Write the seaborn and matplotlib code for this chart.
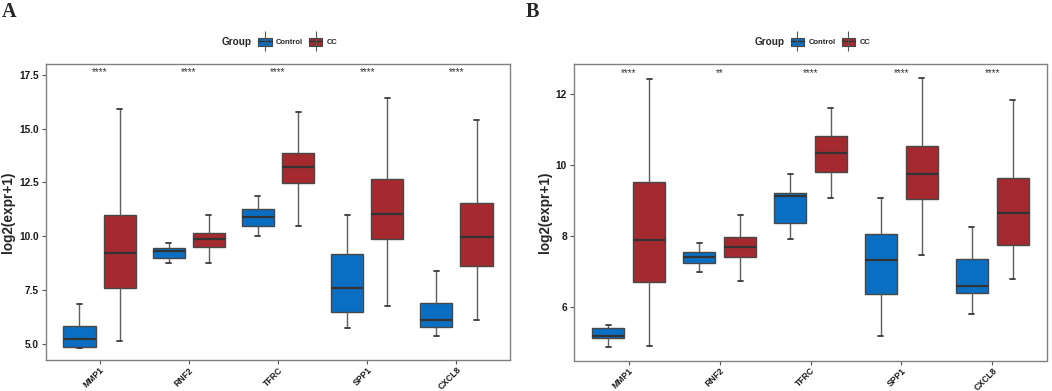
import numpy as np
import pandas as pd
import matplotlib
matplotlib.use("Agg")
import matplotlib.pyplot as plt
from matplotlib.patches import Patch
from matplotlib.lines import Line2D
from matplotlib.legend_handler import HandlerTuple
import matplotlib.transforms as mtransforms
import seaborn as sns

# ---------------- data (five-number summaries) -------------
genes = ["MMP1", "RNF2", "TFRC", "SPP1", "CXCL8"]
groups = ["Control", "CC"]

# each entry: [min, Q1, median, Q3, max]
a_control = [
    [4.82, 4.83, 5.22, 5.81, 6.86],
    [8.76, 8.98, 9.29, 9.44, 9.70],
    [10.00, 10.47, 10.87, 11.26, 11.89],
    [5.73, 6.48, 7.59, 9.19, 10.99],
    [5.36, 5.79, 6.09, 6.90, 8.39],
]
a_cc = [
    [5.11, 7.58, 9.24, 10.99, 15.90],
    [8.73, 9.52, 9.88, 10.14, 10.98],
    [10.47, 12.48, 13.23, 13.85, 15.76],
    [6.77, 9.86, 11.04, 12.66, 16.43],
    [6.10, 8.63, 9.97, 11.54, 15.42],
]
b_control = [
    [4.87, 5.13, 5.19, 5.42, 5.50],
    [6.98, 7.25, 7.41, 7.56, 7.81],
    [7.91, 8.37, 9.13, 9.22, 9.75],
    [5.19, 6.36, 7.32, 8.05, 9.06],
    [5.81, 6.39, 6.60, 7.35, 8.25],
]
b_cc = [
    [4.90, 6.71, 7.89, 9.52, 12.42],
    [6.74, 7.41, 7.69, 7.98, 8.58],
    [9.07, 9.81, 10.34, 10.82, 11.61],
    [7.46, 9.05, 9.75, 10.54, 12.46],
    [6.78, 7.75, 8.65, 9.64, 11.83],
]
sig_a = ["****", "****", "****", "****", "****"]
sig_b = ["****", "**", "****", "****", "****"]

a_yticks = [5.0, 7.5, 10.0, 12.5, 15.0, 17.5]
b_yticks = [6, 8, 10, 12]

colors = {"Control": "#0A6FC2", "CC": "#A52A2F"}


def long_frame(ctrl, cc):
    rows = []
    for g, c5, k5 in zip(genes, ctrl, cc):
        for v in c5:
            rows.append((g, "Control", v))
        for v in k5:
            rows.append((g, "CC", v))
    return pd.DataFrame(rows, columns=["Gene", "Group", "value"])


df_a = long_frame(a_control, a_cc)
df_b = long_frame(b_control, b_cc)

# ---------------- style ----------------
sns.set_theme(style="white")
plt.rcParams["font.family"] = ["Liberation Sans", "DejaVu Sans"]

fig = plt.figure(figsize=(10.52, 3.91), dpi=100)

W, H = 1052, 391
ax_a = fig.add_axes([46 / W, 1 - 360 / H, (510 - 46) / W, (360 - 64) / H])
ax_b = fig.add_axes([574 / W, 1 - 360.5 / H, (1047 - 574) / W, (360.5 - 64.3) / H])


def draw(ax, df, ylim, yticks, fmt, sig, letter, letter_x):
    sns.boxplot(
        data=df, x="Gene", y="value", hue="Group", order=genes,
        hue_order=groups, palette=colors, saturation=1, width=0.9, gap=0.2,
        whis=(0, 100), linecolor="#474747", linewidth=1.0, ax=ax,
        legend=False, capwidths=0.055,
        whiskerprops=dict(color="#5e5e5e", linewidth=1.0),
        capprops=dict(color="#3a3a3a", linewidth=1.3),
        medianprops=dict(color="#333333", linewidth=1.6),
    )
    ax.set_xlim(-0.6, 4.6)
    ax.set_ylim(*ylim)
    ax.set_yticks(yticks)
    ax.set_yticklabels([fmt.format(t) for t in yticks], fontsize=7.3,
                       fontweight="bold", color="#1a1a1a")
    ax.set_xticks(range(len(genes)))
    ax.set_xticklabels(genes, rotation=45, ha="right", va="top",
                       rotation_mode="anchor",
                       fontsize=6.2, fontweight="bold", color="#1a1a1a")
    ax.set_xlabel("")
    ax.set_ylabel("log2(expr+1)", fontsize=9.8, fontweight="bold", labelpad=3)
    for s in ax.spines.values():
        s.set_color("#808080")
        s.set_linewidth(1.0)
        s.set_visible(True)
    ax.tick_params(axis="both", which="major", length=3, width=0.8,
                   color="#555555", pad=2, left=True, bottom=True)
    ax.tick_params(axis="x", pad=1.0)
    ax.grid(False)
    trans = mtransforms.blended_transform_factory(ax.transData, ax.transAxes)
    for i, s in enumerate(sig):
        ax.text(i, 0.972, s, transform=trans, ha="center", va="center",
                fontsize=7, color="#333333")
    # panel letter
    fig.text(letter_x / W, 1 - 12 / H, letter, fontsize=14.5, fontweight="bold",
             family=["Liberation Serif", "DejaVu Serif"], ha="left", va="center")
    # legend
    pos = ax.get_position()
    cx = (pos.x0 + pos.x1) / 2
    handles = []
    for g in groups:
        handles.append((Patch(facecolor=colors[g], edgecolor="#474747", linewidth=0.8),
                        Line2D([], [], color="#333333", linewidth=1.0),
                        Line2D([], [], marker="|", linestyle="none", color="#555555",
                               markersize=14, markeredgewidth=0.8)))
    fig.legend(handles, groups, loc="center", ncol=2,
               bbox_to_anchor=(cx + 20 / W, 1 - 42 / H), frameon=False,
               handler_map={tuple: HandlerTuple(ndivide=1)},
               prop=dict(size=5.5, weight="bold"), handlelength=1.75,
               handleheight=1.3, handletextpad=0.6, columnspacing=0.75)
    fig.text(cx - 56 / W, 1 - 42 / H, "Group", fontsize=7.2, fontweight="bold",
             ha="left", va="center")


draw(ax_a, df_a, (4.24, 18.01), a_yticks, "{:.1f}", sig_a, "A", 2)
draw(ax_b, df_b, (4.49, 12.84), b_yticks, "{:d}", sig_b, "B", 526)

fig.savefig("out.png", dpi=100)
